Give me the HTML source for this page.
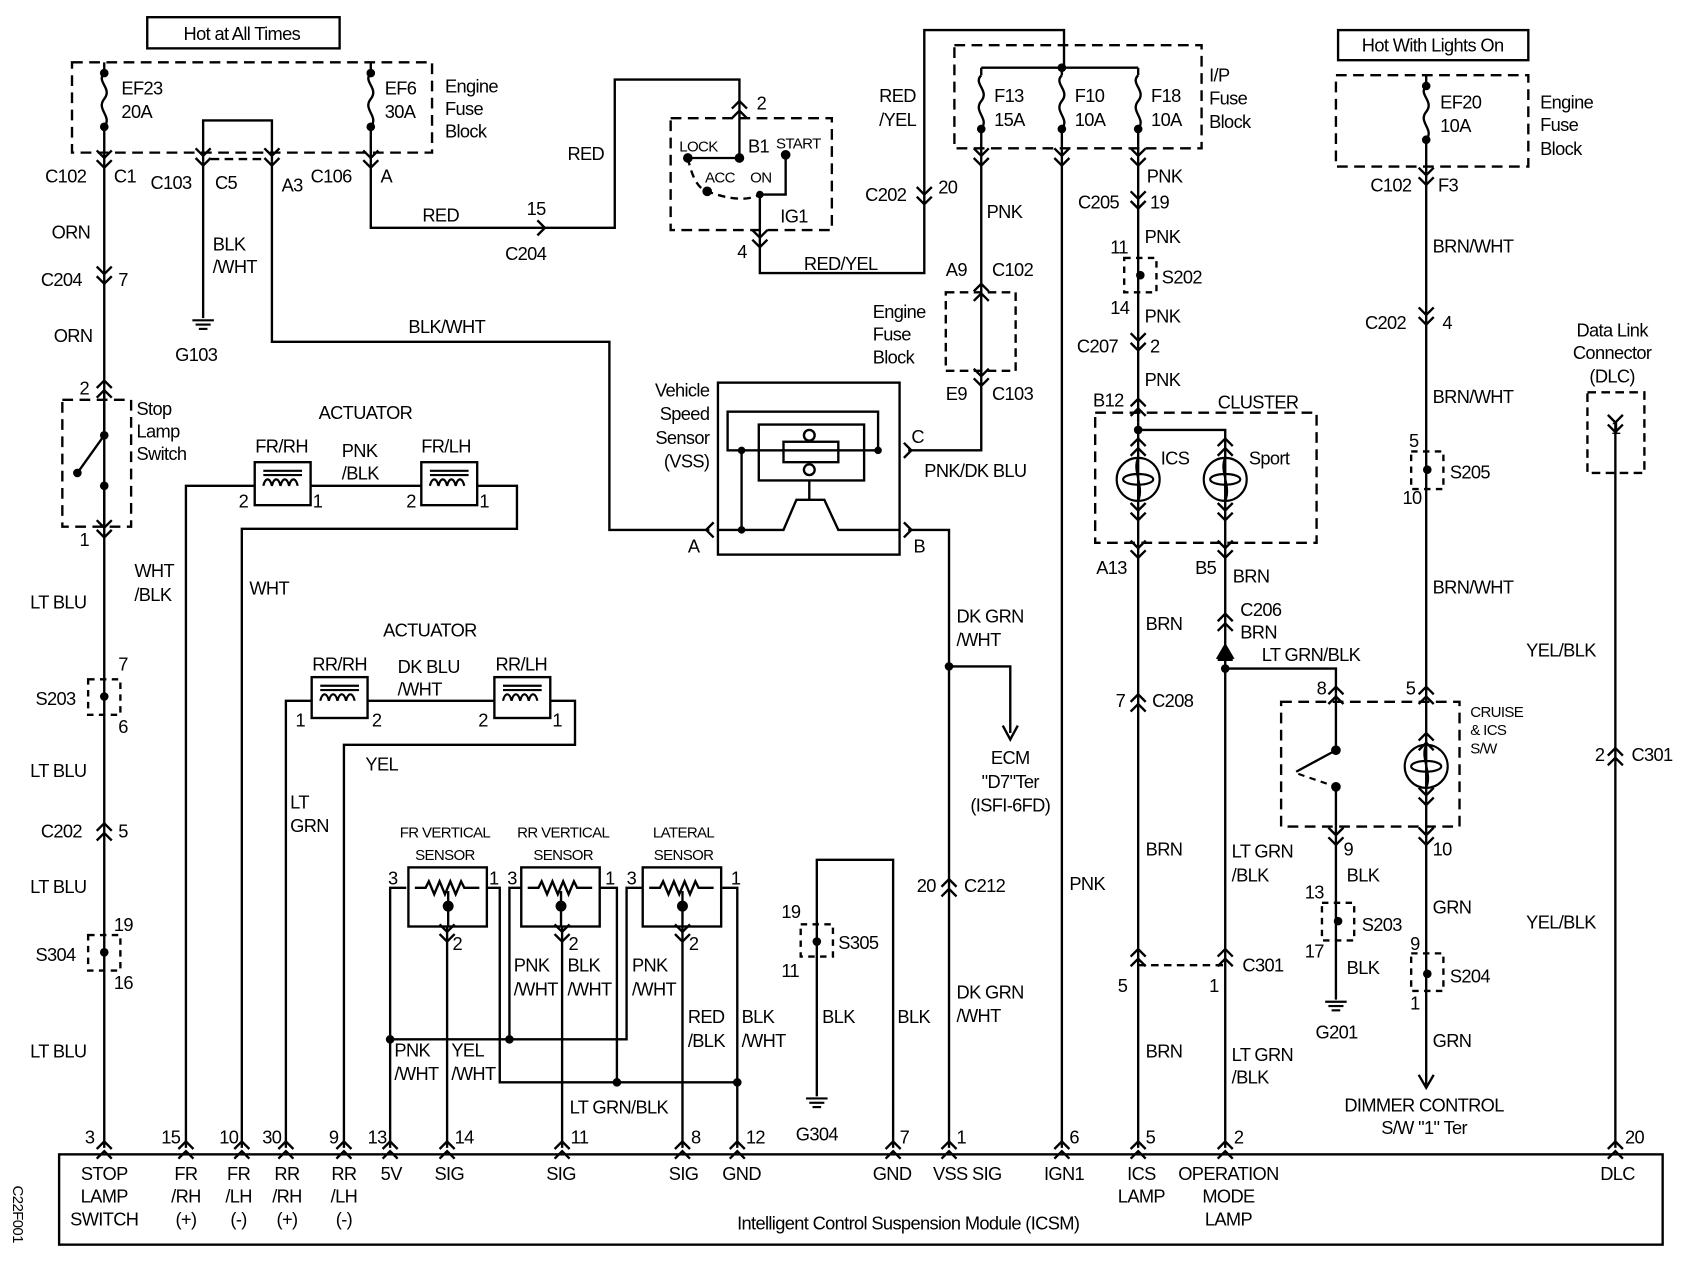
<!DOCTYPE html>
<html><head><meta charset="utf-8"><style>
html,body{margin:0;padding:0;background:#fff}
svg{display:block}
text{font-family:"Liberation Sans",Arial,sans-serif;font-size:17px;fill:#000;letter-spacing:-0.6px}
.s{font-size:14px}
.m{text-anchor:middle}.e{text-anchor:end}
</style></head><body>
<svg width="1682" height="1264" viewBox="0 0 1565 1176" preserveAspectRatio="none" xmlns="http://www.w3.org/2000/svg">
<defs>
<path id="dn" d="M-7,-12 L0,-5 L7,-12 M-7,-3 L0,4 L7,-3" fill="none" stroke="#000" stroke-width="2.2"/>
<path id="up" d="M-7,12 L0,5 L7,12 M-7,3 L0,-4 L7,3" fill="none" stroke="#000" stroke-width="2.2"/>
<path id="fz" d="M0,0 C-8,8 8,14 0,24 C-8,34 8,40 0,50" fill="none" stroke="#000" stroke-width="2.2"/>
<g id="gnd" stroke="#000" stroke-width="2"><line x1="-10" y1="0" x2="10" y2="0"/><line x1="-7" y1="4" x2="7" y2="4"/><line x1="-4" y1="8" x2="4" y2="8"/></g>
<g id="coil" fill="none" stroke="#000" stroke-width="2"><line x1="8" y1="8" x2="44" y2="8"/><line x1="8" y1="12" x2="44" y2="12"/><path d="M8,22 c2,-8 6,-8 8,0 c2,-8 6,-8 8,0 c2,-8 6,-8 8,0 c2,-8 6,-8 8,0"/></g>
<g id="lamp" fill="none" stroke="#000" stroke-width="2"><circle r="20"/><ellipse rx="14" ry="5"/><path d="M0,-20 C-6,-8 6,6 0,20"/></g>
<g id="sens" fill="none" stroke="#000" stroke-width="2.2"><rect x="0" y="0" width="73" height="55"/><path d="M6,19 l10,0 l3,-6 l5,12 l5,-12 l5,12 l5,-12 l5,12 l5,-12 l3,6 l14,0"/><line x1="37" y1="22" x2="37" y2="55"/><circle cx="37" cy="36" r="4" fill="#000"/></g>
</defs>
<g fill="none" stroke="#000" stroke-width="2.2">
<rect x="137" y="16" width="179" height="29"/>
<rect x="67" y="58" width="335" height="84" stroke-dasharray="10,6"/>
<path d="M97,58 V68 M97,118 V1068"/><use href="#fz" x="97" y="68"/>
<path d="M345,58 V68 M345,118 V212 H572 V74 H688 V102"/><use href="#fz" x="345" y="68"/>
<path d="M189,150 V112 H253 V150"/>
<path d="M189,150 V296"/>
<path d="M253,150 V318 H567 V493 H660"/>
<path d="M196,148 H246" stroke-dasharray="8,5"/>
<rect x="58" y="372" width="64" height="118" stroke-dasharray="10,6"/>
<path d="M97,365 V405 L72,440 M97,452 V490"/>
<rect x="82" y="632" width="30" height="33" stroke-dasharray="6,5"/>
<rect x="82" y="870" width="30" height="33" stroke-dasharray="6,5"/>
<path d="M173,1068 V452 H237 M289,452 H392 M444,452 H481 V492 H225 V1068"/>
<rect x="237" y="430" width="52" height="40"/><rect x="392" y="430" width="52" height="40"/>
<path d="M266,1068 V652 H290 M342,652 H460 M512,652 H535 V693 H320 V1068"/>
<rect x="290" y="630" width="52" height="38"/><rect x="460" y="630" width="52" height="38"/>
<path d="M378,826 H363 V1068 M453,826 H465 V1007 H686 M485,826 H474 V967 M558,826 H574 V1007 M597,826 H583 V967 H363 M672,826 H686 V1068"/>
<path d="M416,862 V1068 M523,862 V1068 M635,862 V1068"/>
<rect x="624" y="110" width="150" height="104" stroke-dasharray="10,6"/>
<path d="M688,102 V147 H640 M731,144 V181 H707 V254 H860 V28 H990 V63"/>
<path d="M640,147 Q646,175 658,178 Q690,190 707,181" stroke-dasharray="7,5"/>
<rect x="888" y="42" width="230" height="96" stroke-dasharray="10,6"/>
<path d="M913,63 H1059 M913,63 V70 M988,63 V70 M1059,63 V70"/>
<use href="#fz" x="913" y="70"/><use href="#fz" x="988" y="70"/><use href="#fz" x="1059" y="70"/>
<path d="M913,120 V419 H845"/>
<path d="M988,120 V1068"/>
<path d="M1059,120 V393"/>
<rect x="880" y="272" width="65" height="73" stroke-dasharray="8,5"/>
<rect x="1046" y="240" width="30" height="32" stroke-dasharray="6,5"/>
<rect x="668" y="356" width="169" height="160"/>
<rect x="677" y="383" width="140" height="36"/>
<rect x="706" y="395" width="98" height="52"/>
<rect x="729" y="411" width="51" height="19"/>
<path d="M690,419 V493 M668,493 H729 L741,465 H767 L780,493 H837 M753,447 V465"/>
<circle cx="753" cy="405" r="5"/><circle cx="753" cy="437" r="5"/>
<path d="M845,493 H883 V1068 M883,620 H940 V682"/>
<path d="M760,1020 V800 H831 V1068"/>
<rect x="745" y="860" width="30" height="30" stroke-dasharray="6,5"/>
<rect x="1019" y="384" width="206" height="121" stroke-dasharray="10,6"/>
<path d="M1059,393 V1068 M1059,400 H1140 V1068 M1140,622 H1243 V645"/>
<path d="M1059,898 H1140" stroke-dasharray="7,5"/>
<rect x="1192" y="653" width="166" height="116" stroke-dasharray="10,6"/>
<path d="M1243,645 V698 L1206,718 M1243,732 V778"/>
<path d="M1243,778 V930"/>
<rect x="1230" y="840" width="30" height="35" stroke-dasharray="6,5"/>
<rect x="1245" y="28" width="177" height="28"/>
<rect x="1243" y="70" width="179" height="85" stroke-dasharray="10,6"/>
<path d="M1327,70 V80 M1327,130 V1010"/><use href="#fz" x="1327" y="80"/>
<rect x="1313" y="420" width="30" height="35" stroke-dasharray="6,5"/>
<rect x="1313" y="887" width="30" height="35" stroke-dasharray="6,5"/>
<rect x="1477" y="365" width="53" height="75" stroke-dasharray="8,5"/>
<path d="M1503,392 V1068"/>
<rect x="55" y="1074" width="1492" height="84"/>
</g>
<path d="M1208,720 L1243,732" stroke="#000" stroke-width="2" stroke-dasharray="6,5" fill="none"/>
<path d="M1140,600 L1133,612 H1147 Z M1133,614 H1147" fill="#000" stroke="#000" stroke-width="2"/>
<use href="#lamp" x="1059" y="446"/><use href="#lamp" x="1140" y="446"/><use href="#lamp" x="1327" y="713"/>
<use href="#coil" x="237" y="430"/><use href="#coil" x="392" y="430"/><use href="#coil" x="290" y="630"/><use href="#coil" x="460" y="630"/>
<use href="#sens" x="380" y="807"/><use href="#sens" x="485" y="807"/><use href="#sens" x="598" y="807"/>
<use href="#gnd" x="189" y="298"/><use href="#gnd" x="760" y="1022"/><use href="#gnd" x="1243" y="932"/>
<g fill="#000">
<circle cx="97" cy="68" r="4"/><circle cx="97" cy="118" r="4"/><circle cx="345" cy="68" r="4"/><circle cx="345" cy="118" r="4"/>
<circle cx="97" cy="405" r="4"/><circle cx="72" cy="440" r="4"/><circle cx="97" cy="452" r="4"/>
<circle cx="97" cy="648" r="4"/><circle cx="97" cy="886" r="4"/>
<circle cx="363" cy="967" r="4"/><circle cx="474" cy="967" r="4"/><circle cx="574" cy="1007" r="4"/><circle cx="686" cy="1007" r="4"/>
<circle cx="688" cy="147" r="4.5"/><circle cx="640" cy="147" r="4.5"/><circle cx="731" cy="144" r="4.5"/><circle cx="658" cy="178" r="4.5"/><circle cx="707" cy="181" r="3.5"/>
<circle cx="988" cy="63" r="4"/><circle cx="913" cy="120" r="4"/><circle cx="988" cy="120" r="4"/><circle cx="1059" cy="120" r="4"/>
<circle cx="1061" cy="256" r="4"/><circle cx="690" cy="419" r="3.5"/><circle cx="690" cy="493" r="3.5"/><circle cx="817" cy="419" r="3.5"/>
<circle cx="883" cy="620" r="4"/><circle cx="760" cy="876" r="4"/>
<circle cx="1059" cy="400" r="4"/><circle cx="1140" cy="622" r="4"/>
<circle cx="1243" cy="698" r="4.5"/><circle cx="1243" cy="732" r="4.5"/><circle cx="1245" cy="857" r="4"/>
<circle cx="1327" cy="80" r="4"/><circle cx="1327" cy="130" r="4"/><circle cx="1328" cy="437" r="4"/><circle cx="1328" cy="906" r="4"/>
</g>
<path d="M933,675 L940,688 L947,675 M1320,1000 L1327,1012 L1334,1000" fill="none" stroke="#000" stroke-width="2.2"/>
<g>
<use href="#dn" x="97" y="152"/><use href="#dn" x="189" y="150"/><use href="#dn" x="253" y="150"/><use href="#dn" x="345" y="152"/>
<use href="#dn" x="97" y="260"/><use href="#up" x="97" y="358"/><use href="#dn" x="97" y="496"/><use href="#up" x="97" y="770"/>
<use href="#dn" x="913" y="150"/><use href="#dn" x="988" y="150"/><use href="#dn" x="1059" y="150"/>
<use href="#up" x="688" y="98"/><use href="#dn" x="707" y="226"/><use href="#dn" x="860" y="186"/>
<use href="#up" x="913" y="268"/><use href="#dn" x="913" y="355"/>
<use href="#dn" x="1059" y="190"/><use href="#dn" x="1059" y="322"/><use href="#up" x="1059" y="375"/><use href="#up" x="1059" y="412"/><use href="#up" x="1140" y="412"/>
<use href="#dn" x="1059" y="480"/><use href="#dn" x="1140" y="480"/><use href="#dn" x="1059" y="515"/><use href="#dn" x="1140" y="515"/>
<use href="#up" x="1140" y="575"/><use href="#up" x="1059" y="650"/><use href="#up" x="1059" y="887"/><use href="#up" x="1140" y="887"/>
<use href="#up" x="1243" y="643"/><use href="#up" x="1327" y="643"/><use href="#up" x="1327" y="686"/><use href="#dn" x="1243" y="782"/><use href="#dn" x="1327" y="782"/><use href="#dn" x="1327" y="745"/>
<use href="#dn" x="1327" y="168"/><use href="#dn" x="1327" y="298"/><use href="#dn" x="1503" y="398"/><use href="#up" x="1503" y="700"/>
<use href="#up" x="883" y="822"/>
<use href="#dn" x="416" y="872"/><use href="#dn" x="523" y="872"/><use href="#dn" x="635" y="872"/>
</g>
<path d="M500,205 L507,212 L500,219 M664,486 L657,493 L664,500 M841,412 L848,419 L841,426 M841,486 L848,493 L841,500" fill="none" stroke="#000" stroke-width="2.2"/>
<g>
<use href="#up" x="97" y="1066"/><use href="#up" x="173" y="1066"/><use href="#up" x="225" y="1066"/><use href="#up" x="266" y="1066"/><use href="#up" x="320" y="1066"/><use href="#up" x="363" y="1066"/><use href="#up" x="416" y="1066"/><use href="#up" x="523" y="1066"/><use href="#up" x="635" y="1066"/><use href="#up" x="686" y="1066"/><use href="#up" x="831" y="1066"/><use href="#up" x="883" y="1066"/><use href="#up" x="988" y="1066"/><use href="#up" x="1059" y="1066"/><use href="#up" x="1140" y="1066"/><use href="#up" x="1503" y="1066"/>
</g>
<text x="225" y="37" class="m">Hot at All Times</text>
<text x="113" y="88">EF23</text><text x="113" y="110">20A</text>
<text x="358" y="88">EF6</text><text x="358" y="110">30A</text>
<text x="414" y="86">Engine</text><text x="414" y="107">Fuse</text><text x="414" y="128">Block</text>
<text x="42" y="170">C102</text><text x="106" y="170">C1</text><text x="140" y="176">C103</text><text x="200" y="176">C5</text><text x="262" y="178">A3</text><text x="289" y="170">C106</text><text x="354" y="170">A</text>
<text x="48" y="222">ORN</text><text x="38" y="266">C204</text><text x="110" y="266">7</text><text x="50" y="318">ORN</text>
<text x="74" y="367">2</text><text x="127" y="386">Stop</text><text x="127" y="407">Lamp</text><text x="127" y="428">Switch</text><text x="74" y="508">1</text>
<text x="28" y="566">LT BLU</text><text x="110" y="624">7</text><text x="33" y="656">S203</text><text x="110" y="682">6</text>
<text x="28" y="723">LT BLU</text><text x="38" y="779">C202</text><text x="110" y="779">5</text><text x="28" y="831">LT BLU</text>
<text x="106" y="866">19</text><text x="33" y="894">S304</text><text x="106" y="920">16</text><text x="28" y="984">LT BLU</text>
<text x="198" y="233">BLK</text><text x="198" y="254">/WHT</text><text x="163" y="336">G103</text>
<text x="393" y="206">RED</text><text x="490" y="200">15</text><text x="470" y="242">C204</text><text x="528" y="149">RED</text>
<text x="380" y="310">BLK/WHT</text>
<text x="632" y="141" class="s">LOCK</text><text x="696" y="142">B1</text><text x="722" y="138" class="s">START</text><text x="656" y="170" class="s">ACC</text><text x="698" y="170" class="s">ON</text><text x="726" y="207">IG1</text><text x="704" y="102">2</text><text x="686" y="240">4</text>
<text x="748" y="251">RED/YEL</text><text x="818" y="95">RED</text><text x="818" y="117">/YEL</text><text x="805" y="187">C202</text><text x="873" y="180">20</text>
<text x="925" y="95">F13</text><text x="925" y="117">15A</text><text x="1000" y="95">F10</text><text x="1000" y="117">10A</text><text x="1071" y="95">F18</text><text x="1071" y="117">10A</text>
<text x="1125" y="76">I/P</text><text x="1125" y="97">Fuse</text><text x="1125" y="119">Block</text>
<text x="918" y="203">PNK</text><text x="880" y="257">A9</text><text x="923" y="257">C102</text><text x="812" y="296">Engine</text><text x="812" y="317">Fuse</text><text x="812" y="338">Block</text><text x="880" y="372">E9</text><text x="923" y="372">C103</text>
<text x="1067" y="170">PNK</text><text x="1003" y="194">C205</text><text x="1070" y="194">19</text><text x="1065" y="226">PNK</text><text x="1033" y="236">11</text><text x="1081" y="264">S202</text><text x="1033" y="292">14</text><text x="1065" y="300">PNK</text><text x="1002" y="328">C207</text><text x="1070" y="328">2</text><text x="1065" y="359">PNK</text><text x="1017" y="378">B12</text><text x="1133" y="380">CLUSTER</text>
<text x="1080" y="432">ICS</text><text x="1162" y="432">Sport</text><text x="1020" y="534">A13</text><text x="1112" y="534">B5</text><text x="1147" y="542">BRN</text><text x="1154" y="573">C206</text><text x="1154" y="594">BRN</text><text x="1174" y="615">LT GRN/BLK</text>
<text x="1066" y="586">BRN</text><text x="1038" y="658">7</text><text x="1072" y="658">C208</text><text x="1066" y="796">BRN</text><text x="1146" y="798">LT GRN</text><text x="1146" y="820">/BLK</text>
<text x="1040" y="923">5</text><text x="1125" y="923">1</text><text x="1156" y="904">C301</text><text x="1066" y="984">BRN</text><text x="1146" y="987">LT GRN</text><text x="1146" y="1008">/BLK</text>
<text x="1225" y="646">8</text><text x="1308" y="646">5</text><text x="1368" y="667" class="s">CRUISE</text><text x="1368" y="684" class="s">&amp; ICS</text><text x="1368" y="701" class="s">S/W</text>
<text x="1250" y="796">9</text><text x="1333" y="796">10</text><text x="1253" y="820">BLK</text><text x="1214" y="836">13</text><text x="1267" y="866">S203</text><text x="1214" y="891">17</text><text x="1253" y="906">BLK</text><text x="1224" y="966">G201</text>
<text x="1333" y="850">GRN</text><text x="1312" y="884">9</text><text x="1349" y="914">S204</text><text x="1312" y="939">1</text><text x="1333" y="974">GRN</text>
<text x="1325" y="1034" class="m">DIMMER CONTROL</text><text x="1325" y="1055" class="m">S/W "1" Ter</text>
<text x="1333" y="48" class="m">Hot With Lights On</text><text x="1340" y="101">EF20</text><text x="1340" y="123">10A</text><text x="1433" y="101">Engine</text><text x="1433" y="122">Fuse</text><text x="1433" y="144">Block</text>
<text x="1275" y="178">C102</text><text x="1338" y="178">F3</text><text x="1333" y="235">BRN/WHT</text><text x="1270" y="306">C202</text><text x="1342" y="306">4</text><text x="1333" y="375">BRN/WHT</text>
<text x="1311" y="416">5</text><text x="1349" y="445">S205</text><text x="1305" y="469">10</text><text x="1333" y="552">BRN/WHT</text>
<text x="1500" y="313" class="m">Data Link</text><text x="1500" y="334" class="m">Connector</text><text x="1500" y="356" class="m">(DLC)</text><text x="1499" y="404">1</text>
<text x="1420" y="611">YEL/BLK</text><text x="1484" y="708">2</text><text x="1518" y="708">C301</text><text x="1420" y="864">YEL/BLK</text>
<text x="340" y="390" class="m">ACTUATOR</text><text x="262" y="421" class="m">FR/RH</text><text x="318" y="425">PNK</text><text x="318" y="446">/BLK</text><text x="415" y="421" class="m">FR/LH</text>
<text x="222" y="472">2</text><text x="291" y="472">1</text><text x="378" y="472">2</text><text x="446" y="472">1</text>
<text x="125" y="537">WHT</text><text x="125" y="559">/BLK</text><text x="232" y="553">WHT</text>
<text x="400" y="592" class="m">ACTUATOR</text><text x="316" y="624" class="m">RR/RH</text><text x="370" y="626">DK BLU</text><text x="370" y="647">/WHT</text><text x="485" y="624" class="m">RR/LH</text>
<text x="275" y="676">1</text><text x="346" y="676">2</text><text x="445" y="676">2</text><text x="514" y="676">1</text>
<text x="340" y="717">YEL</text><text x="270" y="752">LT</text><text x="270" y="774">GRN</text>
<text x="414" y="779" class="m s">FR VERTICAL</text><text x="414" y="800" class="m s">SENSOR</text><text x="524" y="779" class="m s">RR VERTICAL</text><text x="524" y="800" class="m s">SENSOR</text><text x="636" y="779" class="m s">LATERAL</text><text x="636" y="800" class="m s">SENSOR</text>
<text x="361" y="823">3</text><text x="455" y="823">1</text><text x="472" y="823">3</text><text x="563" y="823">1</text><text x="583" y="823">3</text><text x="680" y="823">1</text>
<text x="421" y="884">2</text><text x="529" y="884">2</text><text x="641" y="884">2</text>
<text x="478" y="904">PNK</text><text x="478" y="926">/WHT</text><text x="528" y="904">BLK</text><text x="528" y="926">/WHT</text><text x="588" y="904">PNK</text><text x="588" y="926">/WHT</text>
<text x="640" y="952">RED</text><text x="640" y="974">/BLK</text><text x="690" y="952">BLK</text><text x="690" y="974">/WHT</text>
<text x="367" y="983">PNK</text><text x="367" y="1005">/WHT</text><text x="420" y="983">YEL</text><text x="420" y="1005">/WHT</text><text x="530" y="1036">LT GRN/BLK</text>
<text x="660" y="369" class="e">Vehicle</text><text x="660" y="391" class="e">Speed</text><text x="660" y="413" class="e">Sensor</text><text x="660" y="435" class="e">(VSS)</text>
<text x="848" y="412">C</text><text x="860" y="444">PNK/DK BLU</text><text x="640" y="514">A</text><text x="850" y="514">B</text>
<text x="890" y="579">DK GRN</text><text x="890" y="601">/WHT</text><text x="940" y="711" class="m">ECM</text><text x="940" y="733" class="m">"D7"Ter</text><text x="940" y="755" class="m">(ISFI-6FD)</text>
<text x="853" y="830">20</text><text x="897" y="830">C212</text><text x="890" y="929">DK GRN</text><text x="890" y="951">/WHT</text><text x="995" y="828">PNK</text>
<text x="727" y="854">19</text><text x="727" y="909">11</text><text x="780" y="883">S305</text><text x="765" y="952">BLK</text><text x="835" y="952">BLK</text><text x="760" y="1061" class="m">G304</text>
<g>
<text x="79" y="1064">3</text><text x="150" y="1064">15</text><text x="204" y="1064">10</text><text x="244" y="1064">30</text><text x="306" y="1064">9</text><text x="342" y="1064">13</text><text x="423" y="1064">14</text><text x="531" y="1064">11</text><text x="643" y="1064">8</text><text x="694" y="1064">12</text><text x="837" y="1064">7</text><text x="890" y="1064">1</text><text x="995" y="1064">6</text><text x="1066" y="1064">5</text><text x="1148" y="1064">2</text><text x="1512" y="1064">20</text>
</g>
<g>
<text x="97" y="1098" class="m">STOP</text><text x="97" y="1119" class="m">LAMP</text><text x="97" y="1140" class="m">SWITCH</text>
<text x="173" y="1098" class="m">FR</text><text x="173" y="1119" class="m">/RH</text><text x="173" y="1140" class="m">(+)</text>
<text x="222" y="1098" class="m">FR</text><text x="222" y="1119" class="m">/LH</text><text x="222" y="1140" class="m">(-)</text>
<text x="267" y="1098" class="m">RR</text><text x="267" y="1119" class="m">/RH</text><text x="267" y="1140" class="m">(+)</text>
<text x="320" y="1098" class="m">RR</text><text x="320" y="1119" class="m">/LH</text><text x="320" y="1140" class="m">(-)</text>
<text x="364" y="1098" class="m">5V</text><text x="418" y="1098" class="m">SIG</text><text x="522" y="1098" class="m">SIG</text><text x="636" y="1098" class="m">SIG</text><text x="690" y="1098" class="m">GND</text><text x="830" y="1098" class="m">GND</text><text x="900" y="1098" class="m">VSS SIG</text><text x="990" y="1098" class="m">IGN1</text>
<text x="1062" y="1098" class="m">ICS</text><text x="1062" y="1119" class="m">LAMP</text><text x="1143" y="1098" class="m">OPERATION</text><text x="1143" y="1119" class="m">MODE</text><text x="1143" y="1140" class="m">LAMP</text><text x="1505" y="1098" class="m">DLC</text>
<text x="845" y="1144" class="m">Intelligent Control Suspension Module (ICSM)</text>
</g>
<text x="0" y="0" class="s" transform="translate(12,1103) rotate(90)">C22F001</text>
</svg>
</body></html>
